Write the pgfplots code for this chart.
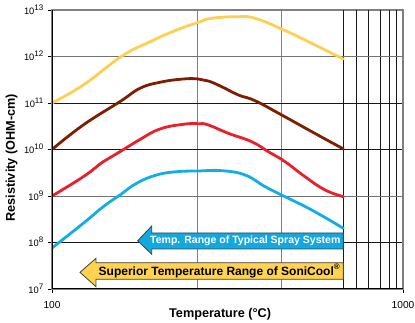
\documentclass[border=0pt]{standalone}
\usepackage{fontspec}
\setmainfont{Liberation Sans}
\usepackage{pgfplots}
\pgfplotsset{compat=1.18}
\definecolor{cyel}{HTML}{FFD04F}
\definecolor{cbrown}{HTML}{7F1D00}
\definecolor{cred}{HTML}{E8202A}
\definecolor{cblue}{HTML}{12ADE6}
\definecolor{arrblue}{HTML}{12A9E0}
\definecolor{arryel}{HTML}{FFD24F}
\newcommand{\E}[1]{10\raisebox{3.2pt}{\fontsize{6}{6}\selectfont #1}}
\begin{document}
\begin{tikzpicture}
\useasboundingbox (-39pt,-25.5pt) rectangle (272.25pt,216.75pt);
\begin{axis}[
  scale only axis, width=263.25pt, height=209.25pt,
  xmode=log, ymode=log,
  xmin=100, xmax=1000, ymin=1e7, ymax=1e13,
  xtick={100,1000}, xticklabels={100,1000},
  ytick={1e7,1e8,1e9,1e10,1e11,1e12,1e13},
  yticklabels={\E{7},\E{8},\E{9},\E{10},\E{11},\E{12},\E{13}},
  minor xtick={260,452}, xminorgrids=true,
  minor grid style={draw=black!50, line width=0.8pt},
  yminorticks=false,
  ymajorgrids=true, major grid style={draw=black!90, line width=0.6pt},
  extra x ticks={676,738,798,864,914,960}, extra x tick labels={},
  extra x tick style={grid=major, major tick length=0pt},
  extra y ticks={1e9,1e12}, extra y tick labels={},
  extra y tick style={grid=major, major grid style={draw=black!55, line width=0.7pt}, major tick length=0pt},
  tick align=outside, major tick length=3pt, minor tick length=0pt,
  xtick pos=bottom, ytick pos=left,
  tick style={black, line width=0.6pt},
  axis line style={draw=black!50, line width=0.8pt},
  xticklabel style={font=\fontsize{7.6}{9}\selectfont, yshift=-2.5pt},
  yticklabel style={font=\fontsize{7}{8}\selectfont, yshift=0.3pt},
  xlabel={Temperature (°C)}, ylabel={Resistivity (OHM-cm)},
  label style={font=\fontsize{9.5}{11}\selectfont\bfseries},
  xlabel style={at={(axis description cs:0.479,-0.09)}, anchor=center},
  ylabel style={at={(axis description cs:-0.115,0.47)}, anchor=center},
  every axis plot/.append style={line width=2.1pt, smooth, tension=0.75, line join=round, line cap=round},
]
\addplot[cyel] coordinates {(100,1e11) (122.8,2.44e11) (157.3,9.9e11) (190.2,2.08e12) (226.6,3.72e12) (261.2,5.43e12) (285.1,6.64e12) (339.5,7.18e12) (378.7,6.64e12) (451.2,3.90e12) (549.4,1.92e12) (676.1,8.8e11)};
\addplot[cbrown] coordinates {(100,1e10) (122.8,3.37e10) (156.2,1.07e11) (178.1,2.07e11) (203.1,2.79e11) (236.6,3.28e11) (261.2,3.28e11) (278.8,2.97e11) (304.5,2.24e11) (339.5,1.49e11) (378.7,1.12e11) (451.2,5.52e10) (549.4,2.42e10) (676.1,1.03e10)};
\addplot[cred] coordinates {(100,1e9) (122.8,2.6e9) (140,5.47e9) (156.2,8.97e9) (178.1,1.64e10) (203.1,2.76e10) (236.6,3.48e10) (261.2,3.59e10) (278.8,3.37e10) (317.9,2.23e10) (370.6,1.47e10) (413.4,8.97e9) (461.1,5.47e9) (525.8,2.6e9) (599.5,1.35e9) (676.1,9.7e8)};
\addplot[cblue] coordinates {(100,7.62e7) (122.8,2.59e8) (140,5.89e8) (156.2,1.05e9) (174.3,1.88e9) (198.7,2.83e9) (226.6,3.33e9) (261.2,3.45e9) (304.5,3.50e9) (354.8,2.83e9) (404.5,1.59e9) (461.1,9.66e8) (549.4,5.0e8) (676.1,2.02e8)};
\draw[black, line width=0.9pt] (rel axis cs:0,1) -- (rel axis cs:0,0) -- (rel axis cs:1,0);
\end{axis}
\filldraw[fill=arrblue, draw=black!75, line width=0.6pt] (64.3pt,36.2pt) -- (74.8pt,47.25pt) -- (74.8pt,42pt) -- (218.5pt,42pt) -- (218.5pt,30pt) -- (74.8pt,30pt) -- (74.8pt,26pt) -- cycle;
\filldraw[fill=arryel, draw=black!75, line width=0.6pt] (21pt,12.5pt) -- (33pt,23pt) -- (33pt,19.7pt) -- (218.5pt,19.7pt) -- (218.5pt,7.3pt) -- (33pt,7.3pt) -- (33pt,1.7pt) -- cycle;
\node[anchor=east, inner sep=0pt, text=white, font=\fontsize{7.9}{9}\selectfont\bfseries] at (216.5pt,36pt) {Temp. Range of Typical Spray System};
\node[anchor=east, inner sep=0pt, text=black, font=\fontsize{9.0}{10}\selectfont\bfseries] at (216.5pt,13.5pt) {Superior Temperature Range of SoniCool\textsuperscript{®}};
\end{tikzpicture}
\end{document}
